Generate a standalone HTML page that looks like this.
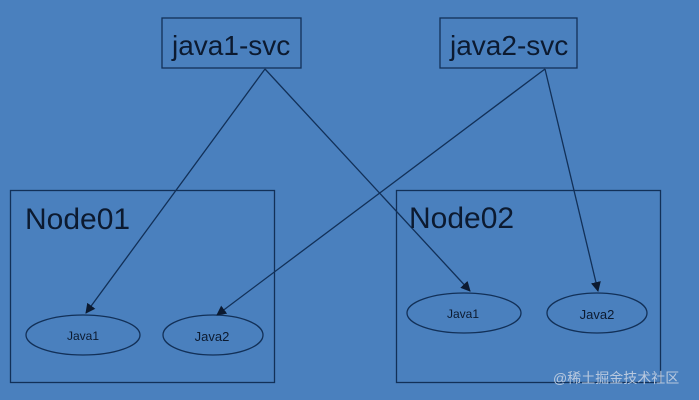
<!DOCTYPE html>
<html><head><style>
html,body{margin:0;padding:0;background:#4a80be;}
svg{display:block}
text{font-family:"Liberation Sans","Noto Sans CJK SC",sans-serif;fill:#0c1a30}
</style></head><body>
<svg width="699" height="400" viewBox="0 0 699 400">
<defs><marker id="a" markerWidth="10" markerHeight="10" refX="9" refY="5" orient="auto" markerUnits="userSpaceOnUse"><path d="M0,0 L10,5 L0,10 z" fill="#0c1a30"/></marker></defs>
<rect width="699" height="400" fill="#4a80be"/>
<g fill="none" stroke="#123058" stroke-width="1.3">
<rect x="162" y="18" width="139" height="50"/>
<rect x="440" y="18" width="137" height="50"/>
<rect x="10.5" y="190.5" width="264" height="192"/>
<rect x="396.5" y="190.5" width="264" height="192"/>
<ellipse cx="83" cy="335" rx="57" ry="20"/>
<ellipse cx="213" cy="335" rx="50" ry="20"/>
<ellipse cx="464" cy="313" rx="57" ry="20"/>
<ellipse cx="597" cy="313" rx="50" ry="20"/>
<line x1="265" y1="69" x2="86" y2="313" marker-end="url(#a)"/>
<line x1="265" y1="69" x2="470" y2="291" marker-end="url(#a)"/>
<line x1="545" y1="69" x2="217" y2="315" marker-end="url(#a)"/>
<line x1="545" y1="69" x2="598" y2="291" marker-end="url(#a)"/>
</g>
<text x="172" y="55" font-size="28">java1-svc</text>
<text x="450" y="55" font-size="28">java2-svc</text>
<text x="25" y="229" font-size="30">Node01</text>
<text x="409" y="228" font-size="30">Node02</text>
<text x="83" y="340" font-size="12" text-anchor="middle">Java1</text>
<text x="212" y="341" font-size="13" text-anchor="middle">Java2</text>
<text x="463" y="318" font-size="12" text-anchor="middle">Java1</text>
<text x="597" y="319" font-size="13" text-anchor="middle">Java2</text>
<text x="553" y="383" font-size="14" style="fill:#b8c8de">@稀土掘金技术社区</text>
</svg>
</body></html>
